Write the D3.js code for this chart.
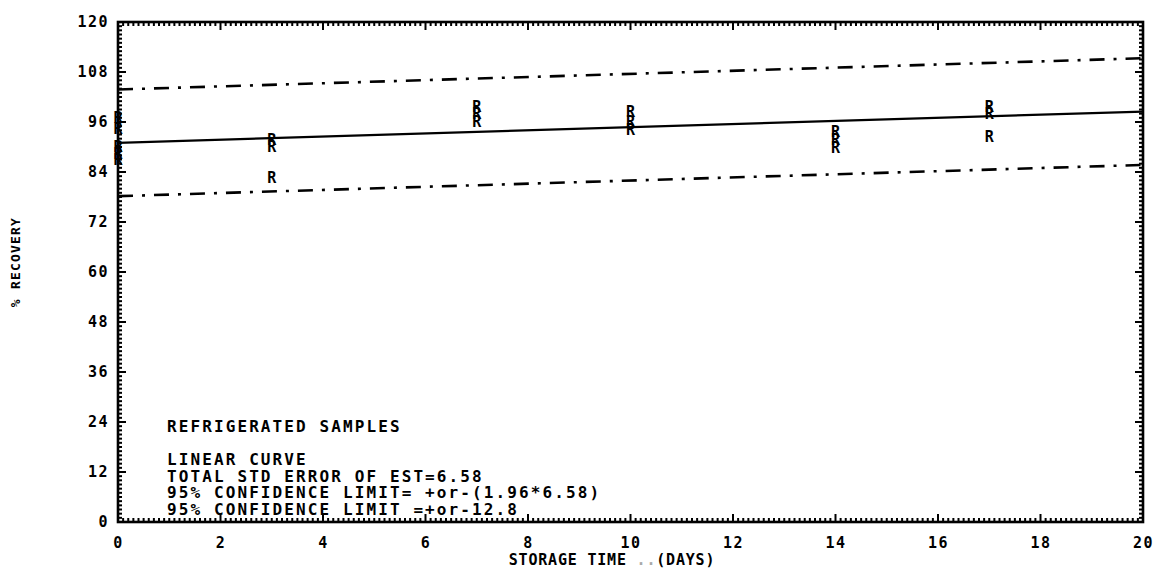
<!DOCTYPE html>
<html>
<head>
<meta charset="utf-8">
<script src="https://cdn.jsdelivr.net/npm/d3@7"></script>
<style>
	body { margin: 0; background: white; }
</style>
</head>
<body>
<script>
// storage day of every replicate and its % recovery
const days = [0, 0, 0, 0, 0, 3, 3, 3, 7, 7, 7, 10, 10, 10, 14, 14, 14, 17, 17, 17];
const recovery = [97.0, 94.5, 90.0, 88.5, 87.0, 91.7, 90.0, 82.7, 99.6, 97.9, 96.2, 98.4, 96.2, 94.1, 93.6, 91.7, 89.8, 99.6, 97.9, 92.6];

// fitted linear curve and the 95% limits, at both ends of the x range
const fitDays = [0, 20];
const fitValues = [91.0, 98.5];
const upperValues = [103.8, 111.3];
const lowerValues = [78.2, 85.7];

// tick labels
const xTicks = [0, 2, 4, 6, 8, 10, 12, 14, 16, 18, 20];
const yTicks = [0, 12, 24, 36, 48, 60, 72, 84, 96, 108, 120];

// the note block in the lower left corner
const notes = [
	"REFRIGERATED SAMPLES",
	"",
	"LINEAR CURVE",
	"TOTAL STD ERROR OF EST=6.58",
	"95% CONFIDENCE LIMIT= +or-(1.96*6.58)",
	"95% CONFIDENCE LIMIT =+or-12.8"
];

const width = 1154,
	height = 568,
	marginTop = 22,
	marginRight = 11,
	marginBottom = 46,
	marginLeft = 118;
const font = "'DejaVu Sans Mono', monospace";

const x = d3.scaleLinear([0, 20], [marginLeft, width - marginRight]);
const y = d3.scaleLinear([0, 120], [height - marginBottom, marginTop]);

const svg = d3.select("body")
	.append("svg")
	.attr("width", width)
	.attr("height", height)
	.attr("viewBox", [0, 0, width, height])
	.style("background-color", "white");

// tick marks on all four sides, pointing into the frame
const minorX = d3.range(0, 200.5).map(d => d / 10);
const minorY = d3.range(0, 120.5);
const tickLen = (v, majors) => majors.includes(v) ? 8 : 4;

const tickG = svg.append("g")
	.attr("stroke", "#000")
	.attr("stroke-width", 2);

[[y(0), -1], [y(120), 1]].forEach(([y0, dir]) => {
	tickG.append("g").selectAll("line")
		.data(minorX)
		.join("line")
		.attr("x1", d => x(d))
		.attr("x2", d => x(d))
		.attr("y1", y0)
		.attr("y2", d => y0 + dir * tickLen(d, xTicks));
});
[[x(0), 1], [x(20), -1]].forEach(([x0, dir]) => {
	tickG.append("g").selectAll("line")
		.data(minorY)
		.join("line")
		.attr("y1", d => y(d))
		.attr("y2", d => y(d))
		.attr("x1", x0)
		.attr("x2", d => x0 + dir * tickLen(d, yTicks));
});

// frame
svg.append("rect")
	.attr("x", x(0))
	.attr("y", y(120))
	.attr("width", x(20) - x(0))
	.attr("height", y(0) - y(120))
	.attr("fill", "none")
	.attr("stroke", "#000")
	.attr("stroke-width", 2.6);

// tick labels
function labels(g) {
	g.select(".domain").remove();
	g.attr("font-family", font)
		.attr("font-size", 15)
		.attr("font-weight", "bold")
		.attr("letter-spacing", 1.5);
	g.selectAll("text").attr("fill", "#000");
}
svg.append("g")
	.attr("transform", `translate(0,${y(0)})`)
	.call(d3.axisBottom(x).tickValues(xTicks).tickSize(0).tickPadding(15))
	.call(labels);
svg.append("g")
	.attr("transform", `translate(${x(0)},0)`)
	.call(d3.axisLeft(y).tickValues(yTicks).tickSize(0).tickPadding(9))
	.call(labels);

// axis titles
const xTitle = svg.append("text")
	.attr("x", 612)
	.attr("y", 565)
	.attr("text-anchor", "middle")
	.attr("font-family", font)
	.attr("font-size", 15)
	.attr("font-weight", "bold")
	.attr("letter-spacing", 0.8);
xTitle.append("tspan").text("STORAGE TIME ");
xTitle.append("tspan").attr("fill", "#aaa").text("..");
xTitle.append("tspan").text("(DAYS)");

svg.append("text")
	.attr("transform", `translate(20,${(y(0) + y(120)) / 2 - 10}) rotate(-90)`)
	.attr("text-anchor", "middle")
	.attr("font-family", font)
	.attr("font-size", 13)
	.attr("font-weight", "bold")
	.attr("letter-spacing", 1.2)
	.text("% RECOVERY");

// fitted line and dash-dot confidence limits
const line = d3.line()
	.x((d, i) => x(fitDays[i]))
	.y(d => y(d));

svg.append("path")
	.attr("d", line(fitValues))
	.attr("fill", "none")
	.attr("stroke", "#000")
	.attr("stroke-width", 2.3);

[upperValues, lowerValues].forEach(vals => {
	svg.append("path")
		.attr("d", line(vals))
		.attr("fill", "none")
		.attr("stroke", "#000")
		.attr("stroke-width", 2.6)
		.attr("stroke-dasharray", "15,9,3,9");
});

// data points drawn as the letter R
svg.append("g")
	.attr("font-family", font)
	.attr("font-size", 15)
	.attr("font-weight", "bold")
	.attr("text-anchor", "middle")
	.selectAll("text")
	.data(days)
	.join("text")
	.attr("x", d => x(d))
	.attr("y", (d, i) => y(recovery[i]))
	.attr("dy", "0.36em")
	.text("R");

// notes
svg.append("g")
	.attr("font-family", font)
	.attr("font-size", 16)
	.attr("font-weight", "bold")
	.attr("letter-spacing", 2.1)
	.selectAll("text")
	.data(notes)
	.join("text")
	.attr("x", 167)
	.attr("y", (d, i) => 432 + i * 16.6)
	.text(d => d);
</script>
</body>
</html>
